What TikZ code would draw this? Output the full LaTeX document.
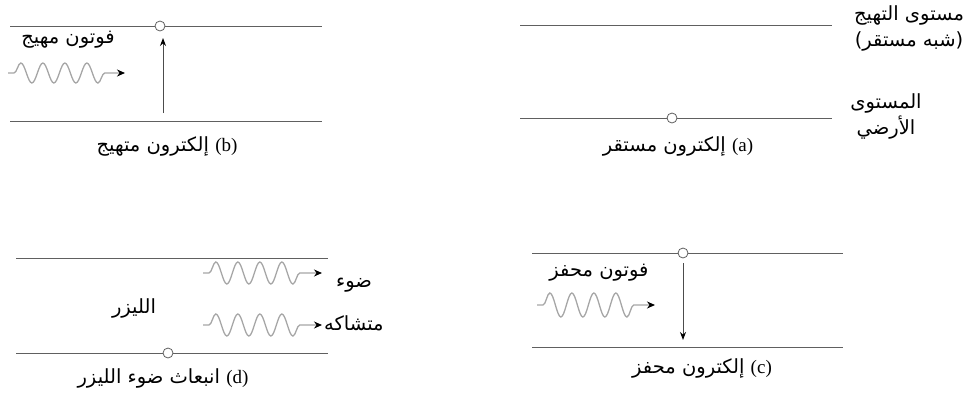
\documentclass[tikz,border=0pt]{standalone}
\usepackage{fontspec}
\setmainfont{Liberation Serif}
\newfontfamily\arabicfont[Script=Arabic]{DejaVu Sans}
\TeXXeTstate=1
\usetikzlibrary{arrows.meta, decorations.pathmorphing}

\newcommand{\tagfont}{\rmfamily\fontsize{19}{22}\selectfont}

\begin{document}
\begin{tikzpicture}[
        x=1pt, y=-1pt,
        level/.style={draw=gray!75!black, line width=1pt},
        electron/.style={
            circle, draw=gray!75!black, fill=white, line width=0.8pt,
            inner sep=0pt, minimum size=10pt
        },
        photon/.style={
            draw=gray!70, line width=1.3pt,
            decorate, decoration={snake, amplitude=#1, segment length=22pt,
                pre length=6pt, post length=18pt},
            -{Stealth[black, length=8pt, width=7pt]}
        },
        photon/.default=10pt,
        jump/.style={
            draw=gray!60!black, line width=1pt,
            -{Stealth[black, length=8pt, width=6pt]}
        },
        arlabel/.style={
            inner sep=0pt, align=center, font=\arabicfont\fontsize{19.5}{26}\selectfont
        }
    ]
        \useasboundingbox (0,0) rectangle (971,394);

        % Levels
        \draw[level] (10,26) -- (322,26);
        \draw[level] (10,121) -- (322,121);
        \draw[level] (520,25) -- (832,25);
        \draw[level] (520,118) -- (832,118);
        \draw[level] (16,258) -- (328,258);
        \draw[level] (16,353) -- (328,353);
        \draw[level] (532,253) -- (843,253);
        \draw[level] (532,347) -- (843,347);

        % Electrons
        \node (eb) [electron] at (160,26) {};
        \node (ea) [electron] at (672,118) {};
        \node (ed) [electron] at (168,353) {};
        \node (ec) [electron] at (683,253) {};

        % Coordinates
        \coordinate (b-from) at (163,113);
        \coordinate (b-to) at (163,38);
        \coordinate (c-to) at (683,340);
        \coordinate (wb-in) at (8,73);
        \coordinate (wb-out) at (125,73);
        \coordinate (wc-in) at (537,305);
        \coordinate (wc-out) at (655,305);
        \coordinate (wd1-in) at (203,273);
        \coordinate (wd1-out) at (322,273);
        \coordinate (wd2-in) at (203,325);
        \coordinate (wd2-out) at (322,325);

        % Labels
        \node (b-photon) [arlabel] at (68,40) {\beginR فوتون مهيج\endR};
        \node (b-tag) [arlabel] at (167,146) {\beginR\beginL{\tagfont(b)}\endL{} إلكترون متهيج\endR};
        \node (a-tag) [arlabel] at (678,146) {\beginR\beginL{\tagfont(a)}\endL{} إلكترون مستقر\endR};
        \node (excited) [arlabel] at (909,28) {\beginR مستوى التهيج\endR\\\beginR (شبه مستقر)\endR};
        \node (ground) [arlabel] at (886,116) {\beginR المستوى\endR\\\beginR الأرضي\endR};
        \node (c-photon) [arlabel] at (599,273) {\beginR فوتون محفز\endR};
        \node (c-tag) [arlabel] at (702,368) {\beginR\beginL{\tagfont(c)}\endL{} إلكترون محفز\endR};
        \node (laser) [arlabel] at (134,308) {\beginR الليزر\endR};
        \node (light) [arlabel, anchor=west] at (336,285) {\beginR ضوء\endR};
        \node (coherent) [arlabel, anchor=west] at (324,323) {\beginR متشاكه\endR};
        \node (d-tag) [arlabel] at (163,378) {\beginR\beginL{\tagfont(d)}\endL{} انبعاث ضوء الليزر\endR};

        % Arrows
        \draw[jump] (b-from) -- (b-to);
        \draw[jump, shorten <=5pt] (ec) -- (c-to);
        \draw[photon] (wb-in) -- (wb-out);
        \draw[photon=12pt] (wc-in) -- (wc-out);
        \draw[photon=11pt] (wd1-in) -- (wd1-out);
        \draw[photon=11pt] (wd2-in) -- (wd2-out);
    \end{tikzpicture}
\end{document}
